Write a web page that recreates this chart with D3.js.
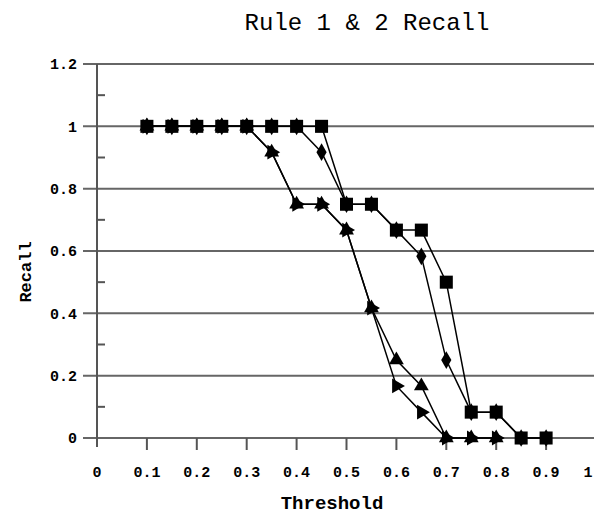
<!DOCTYPE html>
<html>
<head>
<meta charset="utf-8">
<script src="https://cdn.jsdelivr.net/npm/d3@7"></script>
<style>
  body { margin: 0; background: #fff; }
  text { font-family: "Liberation Mono", "DejaVu Sans Mono", monospace; fill: #000; }
</style>
</head>
<body>
<div id="chart"></div>
<script>
// threshold values along the x axis
const thresholds = [0.1, 0.15, 0.2, 0.25, 0.3, 0.35, 0.4, 0.45, 0.5, 0.55, 0.6, 0.65, 0.7, 0.75, 0.8, 0.85, 0.9];
// recall per series
const squareRecall = [1, 1, 1, 1, 1, 1, 1, 1, 0.75, 0.75, 0.667, 0.667, 0.5, 0.083, 0.083, 0, 0];
const diamondRecall = [1, 1, 1, 1, 1, 1, 1, 0.917, 0.75, 0.75, 0.667, 0.583, 0.25, 0.083, 0.083, 0, 0];
const triangleRecall = [1, 1, 1, 1, 1, 0.917, 0.75, 0.75, 0.667, 0.417, 0.25, 0.167, 0, 0, 0];
const arrowRecall = [1, 1, 1, 1, 1, 0.917, 0.75, 0.75, 0.667, 0.417, 0.167, 0.083, 0, 0, 0];

const xTicks = [0, 0.1, 0.2, 0.3, 0.4, 0.5, 0.6, 0.7, 0.8, 0.9, 1];
const yTicks = [0, 0.2, 0.4, 0.6, 0.8, 1, 1.2];
const yMinorTicks = [0.1, 0.3, 0.5, 0.7, 0.9, 1.1];

const width = 594;
const height = 516;
const margin = { top: 64, bottom: 78, left: 97, right: -2 };

const svg = d3
    .select("#chart")
    .append("svg")
    .attr("width", width)
    .attr("height", height);

const x = d3.scaleLinear().domain([0, 1]).range([margin.left, width - margin.right]);
const y = d3.scaleLinear().domain([0, 1.2]).range([height - margin.bottom, margin.top]);

// gridlines
svg.append("g")
    .selectAll("line")
    .data(yTicks)
    .join("line")
    .attr("x1", margin.left - 14)
    .attr("x2", width)
    .attr("y1", (d) => y(d))
    .attr("y2", (d) => y(d))
    .attr("stroke", "#666")
    .attr("stroke-width", 2);

// y axis line + minor ticks
svg.append("line")
    .attr("x1", margin.left)
    .attr("x2", margin.left)
    .attr("y1", y(1.2))
    .attr("y2", y(0) + 9)
    .attr("stroke", "#555")
    .attr("stroke-width", 2);

svg.append("g")
    .selectAll("line")
    .data(yMinorTicks)
    .join("line")
    .attr("x1", margin.left)
    .attr("x2", margin.left + 8)
    .attr("y1", (d) => y(d))
    .attr("y2", (d) => y(d))
    .attr("stroke", "#555")
    .attr("stroke-width", 2);

// x ticks
svg.append("g")
    .selectAll("line")
    .data(xTicks.slice(1))
    .join("line")
    .attr("x1", (d) => x(d))
    .attr("x2", (d) => x(d))
    .attr("y1", y(0))
    .attr("y2", y(0) + 12)
    .attr("stroke", "#555")
    .attr("stroke-width", 2);

// tick labels
svg.append("g")
    .selectAll("text")
    .data(yTicks)
    .join("text")
    .attr("x", margin.left - 20)
    .attr("y", (d) => y(d))
    .attr("dy", "0.35em")
    .attr("text-anchor", "end")
    .style("font-size", "15px")
    .style("font-weight", "bold")
    .text((d) => d3.format("")(+d.toFixed(1)));

svg.append("g")
    .selectAll("text")
    .data(xTicks)
    .join("text")
    .attr("x", (d) => Math.min(x(d), width - 6))
    .attr("y", y(0) + 34)
    .attr("dy", "0.35em")
    .attr("text-anchor", "middle")
    .style("font-size", "15px")
    .style("font-weight", "bold")
    .text((d) => d3.format("")(+d.toFixed(1)));

// titles
svg.append("text")
    .attr("x", 367)
    .attr("y", 22)
    .attr("dy", "0.35em")
    .attr("text-anchor", "middle")
    .style("font-size", "24px")
    .text("Rule 1 & 2 Recall");

svg.append("text")
    .attr("x", 332)
    .attr("y", 502)
    .attr("dy", "0.35em")
    .attr("text-anchor", "middle")
    .style("font-size", "19px")
    .style("font-weight", "bold")
    .text("Threshold");

svg.append("text")
    .attr("transform", "translate(25, 272) rotate(-90)")
    .attr("dy", "0.35em")
    .attr("text-anchor", "middle")
    .style("font-size", "17px")
    .style("font-weight", "bold")
    .text("Recall");

// series
const series = [
    { values: arrowRecall, symbol: d3.symbolTriangle, size: 95, rotate: 90 },
    { values: triangleRecall, symbol: d3.symbolTriangle, size: 95, rotate: 0 },
    { values: diamondRecall, symbol: d3.symbolDiamond, size: 90, rotate: 0 },
    { values: squareRecall, symbol: d3.symbolSquare, size: 170, rotate: 0 },
];

const valueLine = d3
    .line()
    .x((d) => x(d.t))
    .y((d) => y(d.r));

const lines = svg.append("g").attr("id", "lines");
const markers = svg.append("g").attr("id", "markers");

series.forEach((s) => {
    const pts = s.values.map((r, i) => ({ t: thresholds[i], r: r }));
    lines.append("path")
        .attr("d", valueLine(pts))
        .attr("fill", "none")
        .attr("stroke", "#000")
        .attr("stroke-width", 1.5);
    s.pts = pts;
});

series.forEach((s) => {
    markers.append("g")
        .selectAll("path")
        .data(s.pts)
        .join("path")
        .attr("d", d3.symbol().type(s.symbol).size(s.size))
        .attr("transform", (d) => `translate(${x(d.t)},${y(d.r)}) rotate(${s.rotate})`)
        .attr("fill", "#000");
});
</script>
</body>
</html>
